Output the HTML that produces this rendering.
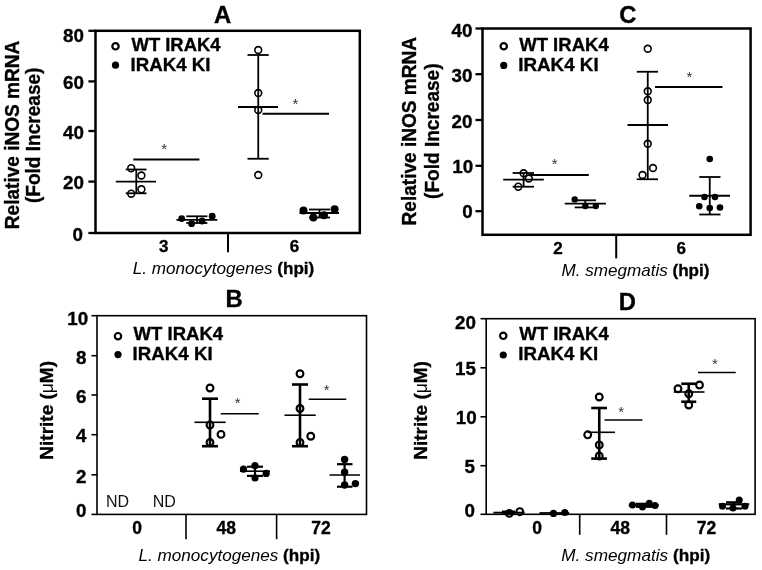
<!DOCTYPE html>
<html><head><meta charset="utf-8"><title>Figure</title>
<style>
html,body{margin:0;padding:0;background:#fff;}
.b{stroke:#000;stroke-width:0.35px;}
svg{display:block;will-change:transform;font-family:"Liberation Sans",Arial,sans-serif;}
</style></head><body>
<svg width="762" height="570" viewBox="0 0 762 570">
<g>
<rect x="95.5" y="30.8" width="264.3" height="202.2" fill="none" stroke="#000" stroke-width="2.5"/>
<line x1="88.4" y1="30.8" x2="95.5" y2="30.8" stroke="#000" stroke-width="2.3"/>
<line x1="88.4" y1="81.4" x2="95.5" y2="81.4" stroke="#000" stroke-width="2.3"/>
<line x1="88.4" y1="131" x2="95.5" y2="131" stroke="#000" stroke-width="2.3"/>
<line x1="88.4" y1="181.6" x2="95.5" y2="181.6" stroke="#000" stroke-width="2.3"/>
<line x1="88.4" y1="233" x2="95.5" y2="233" stroke="#000" stroke-width="2.3"/>
<text x="84.0" y="42.13" font-size="18.8" font-weight="bold" class="b" text-anchor="end" fill="#000">80</text>
<text x="84.0" y="89.03" font-size="18.8" font-weight="bold" class="b" text-anchor="end" fill="#000">60</text>
<text x="84.0" y="138.73" font-size="18.8" font-weight="bold" class="b" text-anchor="end" fill="#000">40</text>
<text x="84.0" y="188.93" font-size="18.8" font-weight="bold" class="b" text-anchor="end" fill="#000">20</text>
<text x="83.0" y="240.53" font-size="18.8" font-weight="bold" class="b" text-anchor="end" fill="#000">0</text>
<text x="19.5" y="134.9" font-size="19.5" font-weight="bold" class="b" text-anchor="middle" textLength="188.5" lengthAdjust="spacingAndGlyphs" transform="rotate(-90 19.5 134.9)" fill="#000">Relative iNOS mRNA</text>
<text x="40" y="135.3" font-size="19.5" font-weight="bold" class="b" text-anchor="middle" textLength="135.5" lengthAdjust="spacingAndGlyphs" transform="rotate(-90 40 135.3)" fill="#000">(Fold Increase)</text>
<text x="222.5" y="23" font-size="23.8" font-weight="bold" class="b" text-anchor="middle" fill="#000">A</text>
<circle cx="115.5" cy="46.3" r="3.2" fill="none" stroke="#000" stroke-width="2.2"/>
<circle cx="115.5" cy="65.2" r="3.6" fill="#000"/>
<text x="131.5" y="51.2" font-size="18.8" font-weight="bold" class="b" textLength="89" lengthAdjust="spacingAndGlyphs" fill="#000">WT IRAK4</text>
<text x="130.5" y="70.8" font-size="18.8" font-weight="bold" class="b" textLength="80" lengthAdjust="spacingAndGlyphs" fill="#000">IRAK4 KI</text>
<line x1="228" y1="233" x2="228" y2="252.2" stroke="#000" stroke-width="2"/>
<text x="163.7" y="252.4" font-size="17" font-weight="bold" class="b" text-anchor="middle" fill="#000">3</text>
<text x="294.4" y="252.4" font-size="17" font-weight="bold" class="b" text-anchor="middle" fill="#000">6</text>
<text x="132.8" y="274.2" font-size="17" textLength="181.5" lengthAdjust="spacingAndGlyphs"><tspan font-style="italic">L. monocytogenes </tspan><tspan font-weight="bold" class="b">(hpi)</tspan></text>
<line x1="136.3" y1="169.5" x2="136.3" y2="193.3" stroke="#000" stroke-width="1.8"/>
<line x1="125.7" y1="169.5" x2="146.5" y2="169.5" stroke="#000" stroke-width="1.8"/>
<line x1="125.7" y1="193.3" x2="146.5" y2="193.3" stroke="#000" stroke-width="1.8"/>
<line x1="115.8" y1="181.7" x2="156" y2="181.7" stroke="#000" stroke-width="1.8"/>
<circle cx="131.2" cy="168.2" r="3.4" fill="none" stroke="#000" stroke-width="1.6"/>
<circle cx="141.4" cy="175.5" r="3.4" fill="none" stroke="#000" stroke-width="1.6"/>
<circle cx="141.4" cy="189.3" r="3.4" fill="none" stroke="#000" stroke-width="1.6"/>
<circle cx="131.2" cy="193.7" r="3.4" fill="none" stroke="#000" stroke-width="1.6"/>
<line x1="197" y1="216.3" x2="197" y2="223" stroke="#000" stroke-width="1.8"/>
<line x1="186.3" y1="216.3" x2="207.4" y2="216.3" stroke="#000" stroke-width="1.8"/>
<line x1="186.3" y1="223" x2="207.4" y2="223" stroke="#000" stroke-width="1.8"/>
<line x1="176.4" y1="219.9" x2="217.3" y2="219.9" stroke="#000" stroke-width="1.8"/>
<circle cx="181.7" cy="218.6" r="3.4" fill="#000"/>
<circle cx="191.6" cy="223.7" r="3.4" fill="#000"/>
<circle cx="202.1" cy="221" r="3.4" fill="#000"/>
<circle cx="212.2" cy="216.2" r="3.4" fill="#000"/>
<line x1="133.3" y1="159.5" x2="199.4" y2="159.5" stroke="#000" stroke-width="1.8"/>
<text x="164.2" y="153.8" font-size="15" font-weight="normal" text-anchor="middle" fill="#333">*</text>
<line x1="258.25" y1="55" x2="258.25" y2="158.75" stroke="#000" stroke-width="1.8"/>
<line x1="247.5" y1="55" x2="268.75" y2="55" stroke="#000" stroke-width="1.8"/>
<line x1="247.5" y1="158.75" x2="268.75" y2="158.75" stroke="#000" stroke-width="1.8"/>
<line x1="238" y1="107" x2="278" y2="107" stroke="#000" stroke-width="1.8"/>
<circle cx="258.25" cy="50" r="3.4" fill="none" stroke="#000" stroke-width="1.6"/>
<circle cx="258.25" cy="93" r="3.4" fill="none" stroke="#000" stroke-width="1.6"/>
<circle cx="258.25" cy="110" r="3.4" fill="none" stroke="#000" stroke-width="1.6"/>
<circle cx="258.25" cy="175" r="3.4" fill="none" stroke="#000" stroke-width="1.6"/>
<line x1="319.5" y1="209.5" x2="319.5" y2="217.5" stroke="#000" stroke-width="1.8"/>
<line x1="309" y1="209.5" x2="330" y2="209.5" stroke="#000" stroke-width="1.8"/>
<line x1="309" y1="217.5" x2="330" y2="217.5" stroke="#000" stroke-width="1.8"/>
<line x1="299.5" y1="213" x2="339" y2="213" stroke="#000" stroke-width="1.8"/>
<circle cx="303.5" cy="210.5" r="4.0" fill="#000"/>
<circle cx="313.4" cy="217.4" r="4.0" fill="#000"/>
<circle cx="324" cy="215.2" r="4.0" fill="#000"/>
<circle cx="334.6" cy="209.2" r="4.0" fill="#000"/>
<line x1="262.5" y1="113.75" x2="329" y2="113.75" stroke="#000" stroke-width="1.8"/>
<text x="295.5" y="108.5" font-size="15" font-weight="normal" text-anchor="middle" fill="#333">*</text>
<rect x="482.5" y="28.5" width="268.1" height="206.3" fill="none" stroke="#000" stroke-width="2.5"/>
<line x1="475.5" y1="28.5" x2="482.5" y2="28.5" stroke="#000" stroke-width="2.3"/>
<line x1="475.5" y1="74.2" x2="482.5" y2="74.2" stroke="#000" stroke-width="2.3"/>
<line x1="475.5" y1="120" x2="482.5" y2="120" stroke="#000" stroke-width="2.3"/>
<line x1="475.5" y1="165.8" x2="482.5" y2="165.8" stroke="#000" stroke-width="2.3"/>
<line x1="475.5" y1="211.2" x2="482.5" y2="211.2" stroke="#000" stroke-width="2.3"/>
<text x="472.4" y="37.23" font-size="18.8" font-weight="bold" class="b" text-anchor="end" fill="#000">40</text>
<text x="472.4" y="81.93" font-size="18.8" font-weight="bold" class="b" text-anchor="end" fill="#000">30</text>
<text x="472.4" y="127.73" font-size="18.8" font-weight="bold" class="b" text-anchor="end" fill="#000">20</text>
<text x="473.1" y="172.53" font-size="18.8" font-weight="bold" class="b" text-anchor="end" fill="#000">10</text>
<text x="472.6" y="218.03" font-size="18.8" font-weight="bold" class="b" text-anchor="end" fill="#000">0</text>
<text x="415.7" y="131.2" font-size="19.5" font-weight="bold" class="b" text-anchor="middle" textLength="188.5" lengthAdjust="spacingAndGlyphs" transform="rotate(-90 415.7 131.2)" fill="#000">Relative iNOS mRNA</text>
<text x="439.1" y="131.2" font-size="19.5" font-weight="bold" class="b" text-anchor="middle" textLength="135.5" lengthAdjust="spacingAndGlyphs" transform="rotate(-90 439.1 131.2)" fill="#000">(Fold Increase)</text>
<text x="627.75" y="22.5" font-size="23.8" font-weight="bold" class="b" text-anchor="middle" fill="#000">C</text>
<circle cx="503.75" cy="46.25" r="3.2" fill="none" stroke="#000" stroke-width="2.2"/>
<circle cx="503.75" cy="65.4" r="3.6" fill="#000"/>
<text x="519.2" y="51" font-size="18.8" font-weight="bold" class="b" textLength="89.5" lengthAdjust="spacingAndGlyphs" fill="#000">WT IRAK4</text>
<text x="518.2" y="70.8" font-size="18.8" font-weight="bold" class="b" textLength="80.5" lengthAdjust="spacingAndGlyphs" fill="#000">IRAK4 KI</text>
<line x1="616.2" y1="234.8" x2="616.2" y2="258.4" stroke="#000" stroke-width="2"/>
<text x="558" y="254" font-size="17" font-weight="bold" class="b" text-anchor="middle" fill="#000">2</text>
<text x="681.2" y="254" font-size="17" font-weight="bold" class="b" text-anchor="middle" fill="#000">6</text>
<text x="561.5" y="275.8" font-size="17" textLength="148" lengthAdjust="spacingAndGlyphs"><tspan font-style="italic">M. smegmatis </tspan><tspan font-weight="bold" class="b">(hpi)</tspan></text>
<line x1="523.6" y1="173" x2="523.6" y2="186.7" stroke="#000" stroke-width="1.8"/>
<line x1="512.6" y1="173" x2="534" y2="173" stroke="#000" stroke-width="1.8"/>
<line x1="512.6" y1="186.7" x2="534" y2="186.7" stroke="#000" stroke-width="1.8"/>
<line x1="503.2" y1="179.6" x2="543.8" y2="179.6" stroke="#000" stroke-width="1.8"/>
<circle cx="523.6" cy="173.3" r="3.4" fill="none" stroke="#000" stroke-width="1.6"/>
<circle cx="528.8" cy="178.5" r="3.4" fill="none" stroke="#000" stroke-width="1.6"/>
<circle cx="518.3" cy="186.7" r="3.4" fill="none" stroke="#000" stroke-width="1.6"/>
<line x1="585.3" y1="200.3" x2="585.3" y2="207.4" stroke="#000" stroke-width="1.8"/>
<line x1="574.7" y1="200.3" x2="596" y2="200.3" stroke="#000" stroke-width="1.8"/>
<line x1="574.7" y1="207.4" x2="596" y2="207.4" stroke="#000" stroke-width="1.8"/>
<line x1="564.8" y1="203.7" x2="605.9" y2="203.7" stroke="#000" stroke-width="1.8"/>
<circle cx="574.7" cy="199.4" r="3.2" fill="#000"/>
<circle cx="585.3" cy="206" r="3.2" fill="#000"/>
<circle cx="595.8" cy="206" r="3.2" fill="#000"/>
<line x1="528.8" y1="175" x2="588.8" y2="175" stroke="#000" stroke-width="1.8"/>
<text x="554.7" y="168.8" font-size="15" font-weight="normal" text-anchor="middle" fill="#333">*</text>
<line x1="647.75" y1="71.75" x2="647.75" y2="179.25" stroke="#000" stroke-width="1.8"/>
<line x1="636.75" y1="71.75" x2="658" y2="71.75" stroke="#000" stroke-width="1.8"/>
<line x1="636.75" y1="179.25" x2="658" y2="179.25" stroke="#000" stroke-width="1.8"/>
<line x1="627.5" y1="125" x2="668" y2="125" stroke="#000" stroke-width="1.8"/>
<circle cx="647.75" cy="48.75" r="3.4" fill="none" stroke="#000" stroke-width="1.6"/>
<circle cx="647.75" cy="91.25" r="3.4" fill="none" stroke="#000" stroke-width="1.6"/>
<circle cx="647.75" cy="100" r="3.4" fill="none" stroke="#000" stroke-width="1.6"/>
<circle cx="647.75" cy="143.75" r="3.4" fill="none" stroke="#000" stroke-width="1.6"/>
<circle cx="653" cy="168" r="3.4" fill="none" stroke="#000" stroke-width="1.6"/>
<circle cx="642.5" cy="175" r="3.4" fill="none" stroke="#000" stroke-width="1.6"/>
<line x1="709.75" y1="177" x2="709.75" y2="214.5" stroke="#000" stroke-width="1.8"/>
<line x1="699.25" y1="177" x2="720.5" y2="177" stroke="#000" stroke-width="1.8"/>
<line x1="699.25" y1="214.5" x2="720.5" y2="214.5" stroke="#000" stroke-width="1.8"/>
<line x1="689.25" y1="195.75" x2="730" y2="195.75" stroke="#000" stroke-width="1.8"/>
<circle cx="709.75" cy="159" r="3.3" fill="#000"/>
<circle cx="704.5" cy="197" r="3.3" fill="#000"/>
<circle cx="715" cy="197" r="3.3" fill="#000"/>
<circle cx="699.25" cy="206.25" r="3.3" fill="#000"/>
<circle cx="709.75" cy="208" r="3.3" fill="#000"/>
<circle cx="720" cy="207.5" r="3.3" fill="#000"/>
<line x1="655" y1="87" x2="722.5" y2="87" stroke="#000" stroke-width="1.8"/>
<text x="689.5" y="82.25" font-size="15" font-weight="normal" text-anchor="middle" fill="#333">*</text>
<rect x="97" y="315.7" width="269.5" height="198.7" fill="none" stroke="#000" stroke-width="1.6"/>
<line x1="91.5" y1="315.7" x2="97" y2="315.7" stroke="#000" stroke-width="1.6"/>
<line x1="91.5" y1="355.7" x2="97" y2="355.7" stroke="#000" stroke-width="1.6"/>
<line x1="91.5" y1="395" x2="97" y2="395" stroke="#000" stroke-width="1.6"/>
<line x1="91.5" y1="434.7" x2="97" y2="434.7" stroke="#000" stroke-width="1.6"/>
<line x1="91.5" y1="474.8" x2="97" y2="474.8" stroke="#000" stroke-width="1.6"/>
<line x1="91.5" y1="514.4" x2="97" y2="514.4" stroke="#000" stroke-width="1.6"/>
<text x="88.1" y="325.03" font-size="18.8" font-weight="bold" class="b" text-anchor="end" fill="#000">10</text>
<text x="86.4" y="363.73" font-size="18.8" font-weight="bold" class="b" text-anchor="end" fill="#000">8</text>
<text x="86.4" y="402.73" font-size="18.8" font-weight="bold" class="b" text-anchor="end" fill="#000">6</text>
<text x="86.4" y="442.13" font-size="18.8" font-weight="bold" class="b" text-anchor="end" fill="#000">4</text>
<text x="86.4" y="483.33" font-size="18.8" font-weight="bold" class="b" text-anchor="end" fill="#000">2</text>
<text x="86.4" y="516.63" font-size="18.8" font-weight="bold" class="b" text-anchor="end" fill="#000">0</text>
<text x="53.0" y="410.3" font-size="19.2" font-weight="bold" class="b" text-anchor="middle" textLength="98.7" lengthAdjust="spacingAndGlyphs" transform="rotate(-90 53.0 410.3)">Nitrite (<tspan font-weight="normal" stroke="none" font-size="17.5">μ</tspan>M)</text>
<text x="234.2" y="307" font-size="23.8" font-weight="bold" class="b" text-anchor="middle" fill="#000">B</text>
<circle cx="118" cy="336.2" r="3.2" fill="none" stroke="#000" stroke-width="2.2"/>
<circle cx="118" cy="354.6" r="3.6" fill="#000"/>
<text x="133.6" y="340.1" font-size="18.8" font-weight="bold" class="b" textLength="89.5" lengthAdjust="spacingAndGlyphs" fill="#000">WT IRAK4</text>
<text x="132.6" y="360" font-size="18.8" font-weight="bold" class="b" textLength="80" lengthAdjust="spacingAndGlyphs" fill="#000">IRAK4 KI</text>
<line x1="186" y1="514.4" x2="186" y2="539.2" stroke="#000" stroke-width="1.6"/>
<line x1="276.6" y1="514.4" x2="276.6" y2="539.2" stroke="#000" stroke-width="1.6"/>
<text x="137" y="534" font-size="17.5" font-weight="bold" class="b" text-anchor="middle" fill="#000">0</text>
<text x="226.2" y="534" font-size="17.5" font-weight="bold" class="b" text-anchor="middle" fill="#000">48</text>
<text x="321" y="534" font-size="17.5" font-weight="bold" class="b" text-anchor="middle" fill="#000">72</text>
<text x="106" y="507.2" font-size="16" font-weight="normal" fill="#111">ND</text>
<text x="152.7" y="507.2" font-size="16" font-weight="normal" fill="#111">ND</text>
<text x="138.6" y="560.8" font-size="17" textLength="181.5" lengthAdjust="spacingAndGlyphs"><tspan font-style="italic">L. monocytogenes </tspan><tspan font-weight="bold" class="b">(hpi)</tspan></text>
<line x1="210" y1="398.7" x2="210" y2="446.2" stroke="#000" stroke-width="2.6"/>
<line x1="202" y1="398.7" x2="218" y2="398.7" stroke="#000" stroke-width="2.6"/>
<line x1="202" y1="446.2" x2="218" y2="446.2" stroke="#000" stroke-width="2.6"/>
<line x1="194.5" y1="422.3" x2="225.75" y2="422.3" stroke="#000" stroke-width="1.6"/>
<circle cx="210" cy="388" r="3.4" fill="none" stroke="#000" stroke-width="2.1"/>
<circle cx="210" cy="425" r="3.4" fill="none" stroke="#000" stroke-width="2.1"/>
<circle cx="221" cy="434.4" r="3.4" fill="none" stroke="#000" stroke-width="2.1"/>
<circle cx="210" cy="442.5" r="3.4" fill="none" stroke="#000" stroke-width="2.1"/>
<line x1="255" y1="466.7" x2="255" y2="475.9" stroke="#000" stroke-width="2.2"/>
<line x1="247" y1="466.7" x2="263" y2="466.7" stroke="#000" stroke-width="2.2"/>
<line x1="247" y1="475.9" x2="263" y2="475.9" stroke="#000" stroke-width="2.2"/>
<line x1="240" y1="471.2" x2="270" y2="471.2" stroke="#000" stroke-width="1.6"/>
<circle cx="243.5" cy="469.2" r="3.6" fill="#000"/>
<circle cx="255" cy="465.7" r="3.6" fill="#000"/>
<circle cx="255" cy="478" r="3.6" fill="#000"/>
<circle cx="266.2" cy="473.4" r="3.6" fill="#000"/>
<line x1="220.75" y1="413.75" x2="258.75" y2="413.75" stroke="#000" stroke-width="1.4"/>
<text x="237.75" y="407.75" font-size="15" font-weight="normal" text-anchor="middle" fill="#333">*</text>
<line x1="300" y1="384.5" x2="300" y2="446.2" stroke="#000" stroke-width="2.6"/>
<line x1="292" y1="384.5" x2="308" y2="384.5" stroke="#000" stroke-width="2.6"/>
<line x1="292" y1="446.2" x2="308" y2="446.2" stroke="#000" stroke-width="2.6"/>
<line x1="284.5" y1="415.2" x2="315.75" y2="415.2" stroke="#000" stroke-width="1.6"/>
<circle cx="300" cy="373.75" r="3.4" fill="none" stroke="#000" stroke-width="2.1"/>
<circle cx="300" cy="408.5" r="3.4" fill="none" stroke="#000" stroke-width="2.1"/>
<circle cx="310.75" cy="436.25" r="3.4" fill="none" stroke="#000" stroke-width="2.1"/>
<circle cx="300" cy="442.5" r="3.4" fill="none" stroke="#000" stroke-width="2.1"/>
<line x1="344.6" y1="464.2" x2="344.6" y2="486.7" stroke="#000" stroke-width="2.2"/>
<line x1="337" y1="464.2" x2="352.5" y2="464.2" stroke="#000" stroke-width="2.2"/>
<line x1="337" y1="486.7" x2="352.5" y2="486.7" stroke="#000" stroke-width="2.2"/>
<line x1="329.5" y1="475" x2="360" y2="475" stroke="#000" stroke-width="1.5"/>
<circle cx="344.6" cy="459.5" r="3.7" fill="#000"/>
<circle cx="344.6" cy="472.3" r="3.7" fill="#000"/>
<circle cx="344.6" cy="485" r="3.7" fill="#000"/>
<circle cx="355.4" cy="483.6" r="3.7" fill="#000"/>
<line x1="308.75" y1="399.25" x2="346.25" y2="399.25" stroke="#000" stroke-width="1.4"/>
<text x="326.75" y="394.5" font-size="15" font-weight="normal" text-anchor="middle" fill="#333">*</text>
<rect x="486.2" y="318.7" width="268.90000000000003" height="195.59999999999997" fill="none" stroke="#000" stroke-width="1.6"/>
<line x1="480.5" y1="318.7" x2="486.2" y2="318.7" stroke="#000" stroke-width="1.6"/>
<line x1="480.5" y1="367.8" x2="486.2" y2="367.8" stroke="#000" stroke-width="1.6"/>
<line x1="480.5" y1="416.8" x2="486.2" y2="416.8" stroke="#000" stroke-width="1.6"/>
<line x1="480.5" y1="465.7" x2="486.2" y2="465.7" stroke="#000" stroke-width="1.6"/>
<line x1="480.5" y1="514.3" x2="486.2" y2="514.3" stroke="#000" stroke-width="1.6"/>
<text x="476.0" y="329.43" font-size="18.8" font-weight="bold" class="b" text-anchor="end" fill="#000">20</text>
<text x="476.0" y="374.93" font-size="18.8" font-weight="bold" class="b" text-anchor="end" fill="#000">15</text>
<text x="476.7" y="424.03" font-size="18.8" font-weight="bold" class="b" text-anchor="end" fill="#000">10</text>
<text x="475.0" y="472.73" font-size="18.8" font-weight="bold" class="b" text-anchor="end" fill="#000">5</text>
<text x="475.0" y="516.73" font-size="18.8" font-weight="bold" class="b" text-anchor="end" fill="#000">0</text>
<text x="426.9" y="410.4" font-size="19.2" font-weight="bold" class="b" text-anchor="middle" textLength="98.7" lengthAdjust="spacingAndGlyphs" transform="rotate(-90 426.9 410.4)">Nitrite (<tspan font-weight="normal" stroke="none" font-size="17.5">μ</tspan>M)</text>
<text x="627.25" y="309.9" font-size="23.8" font-weight="bold" class="b" text-anchor="middle" fill="#000">D</text>
<circle cx="503.25" cy="335.8" r="3.2" fill="none" stroke="#000" stroke-width="2.2"/>
<circle cx="503.25" cy="355" r="3.6" fill="#000"/>
<text x="519.3" y="340" font-size="18.8" font-weight="bold" class="b" textLength="89.5" lengthAdjust="spacingAndGlyphs" fill="#000">WT IRAK4</text>
<text x="518.3" y="360" font-size="18.8" font-weight="bold" class="b" textLength="80" lengthAdjust="spacingAndGlyphs" fill="#000">IRAK4 KI</text>
<line x1="579.7" y1="514.3" x2="579.7" y2="534.8" stroke="#000" stroke-width="1.6"/>
<line x1="666.5" y1="514.3" x2="666.5" y2="534.8" stroke="#000" stroke-width="1.6"/>
<text x="537.2" y="534" font-size="17.5" font-weight="bold" class="b" text-anchor="middle" fill="#000">0</text>
<text x="620.2" y="534" font-size="17.5" font-weight="bold" class="b" text-anchor="middle" fill="#000">48</text>
<text x="706.6" y="534" font-size="17.5" font-weight="bold" class="b" text-anchor="middle" fill="#000">72</text>
<text x="561.2" y="561.3" font-size="17" textLength="149" lengthAdjust="spacingAndGlyphs"><tspan font-style="italic">M. smegmatis </tspan><tspan font-weight="bold" class="b">(hpi)</tspan></text>
<line x1="493.4" y1="512.6" x2="524.6" y2="512.6" stroke="#000" stroke-width="1.8"/>
<line x1="502" y1="511.4" x2="515" y2="511.4" stroke="#000" stroke-width="1.8"/>
<line x1="502" y1="513.8" x2="515" y2="513.8" stroke="#000" stroke-width="1.8"/>
<circle cx="509.3" cy="513.4" r="3.4" fill="none" stroke="#000" stroke-width="2.1"/>
<circle cx="519.8" cy="511.7" r="3.4" fill="none" stroke="#000" stroke-width="2.1"/>
<line x1="539.5" y1="513" x2="569.2" y2="513" stroke="#000" stroke-width="1.8"/>
<circle cx="553.5" cy="513.4" r="3.6" fill="#000"/>
<circle cx="564.8" cy="512.5" r="3.6" fill="#000"/>
<line x1="599.25" y1="408" x2="599.25" y2="458.6" stroke="#000" stroke-width="2.6"/>
<line x1="591.25" y1="408" x2="607" y2="408" stroke="#000" stroke-width="2.6"/>
<line x1="591.25" y1="458.6" x2="607" y2="458.6" stroke="#000" stroke-width="2.6"/>
<line x1="588" y1="432.3" x2="615" y2="432.3" stroke="#000" stroke-width="1.6"/>
<circle cx="599.25" cy="397" r="3.4" fill="none" stroke="#000" stroke-width="2.1"/>
<circle cx="587.7" cy="434.8" r="3.4" fill="none" stroke="#000" stroke-width="2.1"/>
<circle cx="599.25" cy="445" r="3.4" fill="none" stroke="#000" stroke-width="2.1"/>
<circle cx="599.25" cy="456" r="3.4" fill="none" stroke="#000" stroke-width="2.1"/>
<line x1="604.5" y1="420" x2="642.5" y2="420" stroke="#000" stroke-width="1.4"/>
<text x="621.25" y="416.6" font-size="15" font-weight="normal" text-anchor="middle" fill="#333">*</text>
<line x1="643.75" y1="503.8" x2="643.75" y2="506.8" stroke="#000" stroke-width="2.2"/>
<line x1="636" y1="503.8" x2="652" y2="503.8" stroke="#000" stroke-width="2.2"/>
<line x1="636" y1="506.8" x2="652" y2="506.8" stroke="#000" stroke-width="2.2"/>
<line x1="628.75" y1="505.3" x2="658.75" y2="505.3" stroke="#000" stroke-width="2.2"/>
<circle cx="632.5" cy="505" r="3.5" fill="#000"/>
<circle cx="642.5" cy="507" r="3.5" fill="#000"/>
<circle cx="649.25" cy="503.25" r="3.5" fill="#000"/>
<circle cx="655" cy="505.5" r="3.5" fill="#000"/>
<line x1="688.75" y1="383.75" x2="688.75" y2="401.75" stroke="#000" stroke-width="2.6"/>
<line x1="681.25" y1="383.75" x2="696.25" y2="383.75" stroke="#000" stroke-width="2.6"/>
<line x1="681.25" y1="401.75" x2="696.25" y2="401.75" stroke="#000" stroke-width="2.6"/>
<line x1="673.75" y1="392" x2="704.5" y2="392" stroke="#000" stroke-width="1.6"/>
<circle cx="678" cy="388.75" r="3.4" fill="none" stroke="#000" stroke-width="2.1"/>
<circle cx="699.5" cy="385" r="3.4" fill="none" stroke="#000" stroke-width="2.1"/>
<circle cx="688.75" cy="393.75" r="3.4" fill="none" stroke="#000" stroke-width="2.1"/>
<circle cx="688.75" cy="405" r="3.4" fill="none" stroke="#000" stroke-width="2.1"/>
<line x1="698" y1="372.5" x2="735.75" y2="372.5" stroke="#000" stroke-width="1.4"/>
<text x="715" y="368.5" font-size="15" font-weight="normal" text-anchor="middle" fill="#333">*</text>
<line x1="733.75" y1="502.3" x2="733.75" y2="508.5" stroke="#000" stroke-width="2.2"/>
<line x1="726" y1="502.3" x2="742" y2="502.3" stroke="#000" stroke-width="2.2"/>
<line x1="726" y1="508.5" x2="742" y2="508.5" stroke="#000" stroke-width="2.2"/>
<line x1="718.75" y1="504.3" x2="749.25" y2="504.3" stroke="#000" stroke-width="2.2"/>
<circle cx="722.5" cy="506.25" r="3.5" fill="#000"/>
<circle cx="733" cy="508" r="3.5" fill="#000"/>
<circle cx="739.25" cy="500" r="3.5" fill="#000"/>
<circle cx="745" cy="506.25" r="3.5" fill="#000"/>
</g>
</svg>
</body></html>
